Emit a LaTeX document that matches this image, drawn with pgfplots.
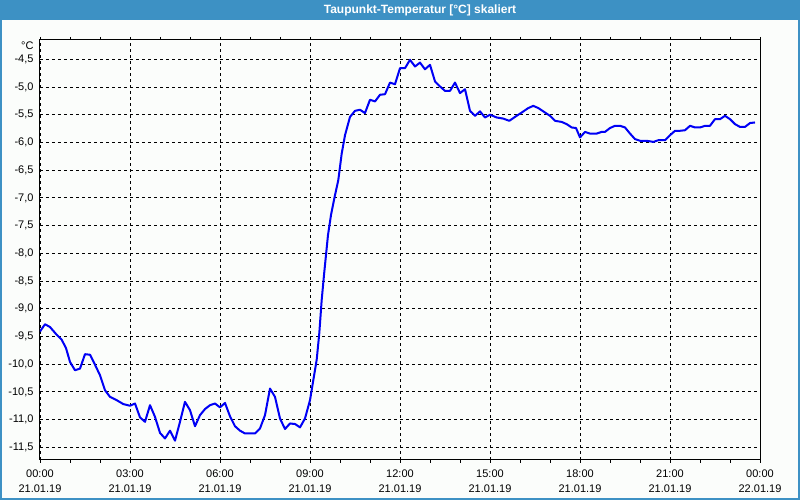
\documentclass[border=0pt]{standalone}
\usepackage{pgfplots}
\pgfplotsset{compat=1.18}
\usepackage{fontspec}
\setmainfont{Liberation Sans}
\definecolor{barblue}{RGB}{61,145,196}
\definecolor{bgc}{RGB}{251,253,251}
\definecolor{lineblue}{RGB}{0,0,245}
\begin{document}
\begin{tikzpicture}
\fill[bgc] (-40pt,-40pt) rectangle (760pt,460pt);
\fill[barblue] (-40pt,440pt) rectangle (760pt,460pt);
\draw[barblue,line width=2pt] (-39pt,-39pt) rectangle (759pt,459pt);
\node[text=white,font=\bfseries\fontsize{12}{14}\selectfont] at (380pt,450pt) {Taupunkt-Temperatur [°C] skaliert};
\node[anchor=east,font=\fontsize{11}{13}\selectfont] at (-3pt,414pt) {°C};
\begin{axis}[
  width=720pt, height=420pt, scale only axis,
  xmin=0, xmax=24, ymin=-11.729, ymax=-4.152,
  axis line style={black, line width=1pt},
  xtick={0,3,...,24},
  minor xtick={1,2,4,5,7,8,10,11,13,14,16,17,19,20,22,23},
  xticklabels={{00:00\\21.01.19},{03:00\\21.01.19},{06:00\\21.01.19},{09:00\\21.01.19},{12:00\\21.01.19},{15:00\\21.01.19},{18:00\\21.01.19},{21:00\\21.01.19},{00:00\\22.01.19}},
  xticklabel style={align=center, font=\fontsize{11}{15.5}\selectfont, yshift=-3pt},
  ytick={-11.5,-11,...,-4.5},
  yticklabel style={font=\fontsize{11}{13}\selectfont},
  /pgf/number format/assume math mode=true,
  /pgf/number format/.cd, fixed, fixed zerofill, precision=1, use comma, /pgfplots/.cd,
  tick align=outside,
  major tick length=3pt, minor tick length=3pt,
  tick style={black, line width=0.8pt},
  ytick style={draw=none},
  xmajorgrids, ymajorgrids,
  major grid style={black, line width=0.8pt, dash pattern=on 3pt off 3pt},
  clip=true,
]
\addplot[lineblue, line width=2pt, line join=round] coordinates {
(0,-9.41)(0.167,-9.28)(0.333,-9.33)(0.557,-9.47)(0.723,-9.56)(0.867,-9.71)(1.0,-9.96)(1.167,-10.11)(1.333,-10.08)(1.5,-9.82)(1.667,-9.83)(1.833,-10.01)(2.0,-10.20)(2.167,-10.47)(2.333,-10.59)(2.557,-10.65)(2.777,-10.72)(3.0,-10.75)(3.167,-10.71)(3.333,-10.96)(3.5,-11.04)(3.667,-10.74)(3.833,-10.95)(4.0,-11.24)(4.167,-11.34)(4.333,-11.20)(4.5,-11.38)(4.667,-11.04)(4.833,-10.68)(5.0,-10.83)(5.167,-11.12)(5.333,-10.92)(5.5,-10.81)(5.667,-10.74)(5.833,-10.71)(6.0,-10.78)(6.167,-10.70)(6.333,-10.94)(6.5,-11.12)(6.667,-11.20)(6.833,-11.25)(7.167,-11.25)(7.333,-11.16)(7.5,-10.92)(7.667,-10.44)(7.833,-10.59)(8.0,-10.98)(8.167,-11.17)(8.333,-11.07)(8.5,-11.08)(8.667,-11.14)(8.833,-10.98)(9.0,-10.65)(9.11,-10.29)(9.223,-9.92)(9.31,-9.44)(9.39,-8.84)(9.467,-8.39)(9.6,-7.67)(9.7,-7.31)(9.81,-7.01)(9.943,-6.68)(10.057,-6.20)(10.167,-5.87)(10.333,-5.54)(10.5,-5.43)(10.667,-5.41)(10.833,-5.47)(11.0,-5.23)(11.167,-5.26)(11.333,-5.14)(11.5,-5.13)(11.667,-4.92)(11.833,-4.95)(12.0,-4.66)(12.167,-4.66)(12.333,-4.51)(12.5,-4.63)(12.667,-4.56)(12.833,-4.68)(13.0,-4.60)(13.167,-4.90)(13.333,-4.99)(13.5,-5.07)(13.667,-5.07)(13.833,-4.92)(14.0,-5.11)(14.167,-5.04)(14.333,-5.43)(14.5,-5.52)(14.667,-5.44)(14.833,-5.55)(15.0,-5.50)(15.223,-5.55)(15.443,-5.57)(15.643,-5.61)(15.833,-5.54)(16.057,-5.46)(16.277,-5.38)(16.443,-5.34)(16.61,-5.38)(16.833,-5.46)(17.0,-5.52)(17.167,-5.61)(17.39,-5.63)(17.557,-5.67)(17.723,-5.73)(17.867,-5.74)(18.0,-5.91)(18.167,-5.81)(18.333,-5.84)(18.557,-5.84)(18.723,-5.81)(18.833,-5.81)(19.0,-5.74)(19.167,-5.70)(19.333,-5.70)(19.5,-5.73)(19.667,-5.84)(19.833,-5.94)(20.0,-5.97)(20.223,-5.97)(20.443,-5.99)(20.61,-5.96)(20.833,-5.96)(21.0,-5.87)(21.167,-5.79)(21.333,-5.79)(21.5,-5.78)(21.667,-5.70)(21.833,-5.73)(22.0,-5.73)(22.167,-5.70)(22.333,-5.70)(22.5,-5.58)(22.667,-5.58)(22.833,-5.52)(23.0,-5.58)(23.167,-5.67)(23.333,-5.72)(23.5,-5.72)(23.667,-5.65)(23.833,-5.64)
};
\end{axis}
\pgfresetboundingbox
\useasboundingbox (-40pt,-40pt) rectangle (760pt,460pt);
\end{tikzpicture}
\end{document}
